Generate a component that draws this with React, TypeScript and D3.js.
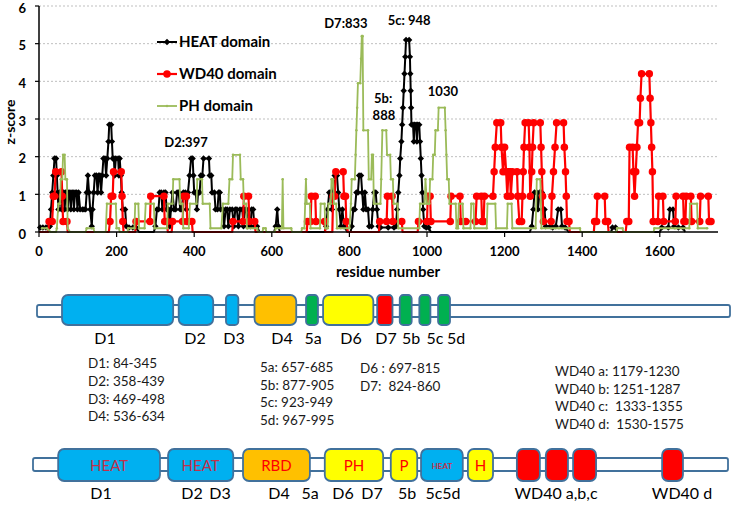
import * as d3 from "d3";

// z-score per residue, [residue, z]
const heatPts: [number, number][] = [
  [3, 0.12], [10, 0.12], [18, 0.12], [24, 0.12], [28, 0.15], [31, 0.6], [34, 1.05], [37, 1.5], [40, 1.95], [44, 1.95],
  [46, 1.5], [48, 1.05], [50, 0.6], [53, 1.05], [56, 1.05], [58, 0.6], [61, 1.05], [64, 1.05], [66, 0.6], [69, 1.05],
  [72, 1.05], [74, 0.6], [77, 1.05], [80, 1.05], [82, 0.6], [85, 1.05], [88, 1.05], [90, 0.6], [93, 1.05], [97, 1.05],
  [99, 0.6], [102, 1.05], [106, 0.6], [112, 0.6], [116, 0.6], [120, 0.6], [123, 1.05], [126, 1.5], [129, 1.05], [132, 0.6],
  [136, 0.15], [138, 0.6], [141, 1.05], [144, 1.5], [148, 1.5], [151, 1.05], [154, 1.5], [157, 1.5], [160, 1.05], [163, 1.5],
  [166, 1.95], [170, 1.95], [173, 1.5], [176, 1.95], [179, 2.4], [181, 2.85], [186, 2.85], [188, 2.4], [190, 1.95], [193, 1.95],
  [195, 1.5], [198, 1.95], [204, 1.95], [206, 1.5], [208, 1.95], [211, 1.5], [213, 1.05], [216, 0.6], [222, 0.6], [225, 0.15],
  [232, 0.12], [242, 0.12], [250, 0.12], [258, 0], [296, 0], [300, 0.15], [304, 0.6], [308, 0.6], [311, 1.05], [315, 1.05],
  [318, 0.6], [322, 1.05], [326, 1.05], [329, 0.6], [334, 0.6], [337, 0.15], [340, 0.6], [344, 1.05], [348, 0.6], [352, 0.6],
  [356, 1.05], [360, 1.05], [364, 0.6], [368, 0.6], [372, 1.05], [377, 1.05], [380, 0.6], [384, 1.05], [388, 1.5], [392, 1.95],
  [396, 1.95], [398, 1.5], [400, 1.05], [404, 1.05], [407, 0.6], [410, 1.05], [414, 1.05], [417, 1.5], [421, 1.5], [424, 1.95],
  [438, 1.95], [440, 1.5], [444, 1.5], [446, 1.05], [452, 1.05], [455, 0.6], [460, 0.6], [463, 1.05], [466, 1.05], [468, 0.6],
  [474, 0.6], [477, 0.15], [481, 0.6], [485, 0.6], [488, 0.15], [492, 0.6], [498, 0.6], [502, 0.15], [506, 0.6], [510, 0.6],
  [514, 0.15], [518, 0.6], [524, 0.6], [527, 0.15], [531, 0.6], [535, 0.6], [538, 0.15], [545, 0.15], [548, 0.6], [552, 0.6],
  [555, 0.15], [562, 0.15], [568, 0], [606, 0], [610, 0.15], [614, 0.6], [617, 0.15], [621, 0], [736, 0], [740, 0.15],
  [744, 0.6], [748, 1.05], [752, 1.05], [755, 0.6], [758, 1.05], [762, 1.5], [768, 1.5], [771, 1.05], [774, 0.6], [778, 0.15],
  [782, 0.6], [786, 0.15], [795, 0], [803, 0], [806, 0.15], [810, 0.6], [814, 0.6], [818, 1.05], [822, 1.05], [825, 1.5],
  [830, 1.5], [833, 1.05], [836, 0.6], [840, 1.05], [843, 0.6], [848, 0.6], [851, 0.15], [857, 0.15], [860, 0.6], [864, 1.05],
  [868, 1.05], [871, 0.6], [875, 0.15], [880, 0.12], [900, 0.12], [915, 0.12], [920, 0.15], [923, 0.6], [926, 1.05], [929, 1.5],
  [931, 1.95], [934, 2.4], [936, 2.85], [938, 3.3], [940, 3.75], [942, 4.2], [944, 4.65], [946, 5.1], [954, 5.1], [956, 4.65],
  [957, 4.2], [958, 3.75], [959, 3.3], [960, 2.85], [964, 2.85], [966, 2.4], [968, 2.85], [972, 2.85], [974, 2.4], [976, 2.85],
  [980, 2.85], [982, 2.4], [984, 1.95], [986, 1.5], [988, 1.05], [990, 0.6], [993, 0.15], [998, 0.12], [1004, 0.12], [1010, 0],
  [1265, 0], [1270, 0.15], [1274, 0.6], [1277, 1.05], [1283, 1.05], [1286, 0.6], [1290, 1.05], [1296, 1.05], [1299, 0.6], [1303, 0.6],
  [1306, 0.15], [1318, 0.15], [1324, 0.12], [1332, 0.15], [1338, 0.6], [1345, 0.6], [1348, 0.15], [1356, 0.12], [1365, 0], [1474, 0],
  [1478, 0.12], [1486, 0.12], [1490, 0], [1600, 0], [1605, 0.12], [1622, 0.12], [1626, 0.6], [1634, 0.6], [1637, 0.15], [1648, 0.12],
  [1660, 0.12], [1665, 0],
];

const wd40Pts: [number, number][] = [
  [0, 0], [24, 0], [26, 0.28], [34, 0.28], [37, 0.95], [40, 0.95], [43, 1.6], [58, 1.6], [60, 0.95], [62, 0.28],
  [72, 0.28], [74, 0], [180, 0], [183, 0.28], [186, 0.95], [190, 0.95], [192, 1.6], [212, 1.6], [214, 0.95], [216, 0.28],
  [218, 0], [248, 0], [250, 0.28], [286, 0.28], [288, 0.95], [322, 0.95], [324, 0.28], [330, 0.28], [332, 0], [342, 0],
  [344, 0.28], [370, 0.28], [373, 0.95], [380, 0.95], [382, 0.28], [394, 0.28], [396, 0], [498, 0], [500, 0.28], [526, 0.28],
  [528, 0.95], [540, 0.95], [542, 0.28], [556, 0.28], [558, 0], [690, 0], [692, 0.28], [700, 0.28], [702, 0.95], [712, 0.95],
  [714, 0.28], [736, 0.28], [738, 0], [756, 0], [758, 0.95], [762, 0.95], [765, 1.6], [784, 1.6], [786, 0.95], [790, 0.95],
  [792, 0.28], [796, 0], [876, 0], [878, 0.28], [896, 0.28], [898, 0.95], [910, 0.95], [912, 0.28], [935, 0.28], [937, 0],
  [976, 0], [978, 0.28], [1000, 0.28], [1002, 0.95], [1008, 0.95], [1010, 0.28], [1060, 0.28], [1062, 0.95], [1085, 0.95], [1087, 0.28],
  [1100, 0.28], [1125, 0.28], [1128, 0.95], [1140, 0.95], [1142, 0.28], [1146, 0.28], [1148, 0.95], [1170, 0.95], [1173, 1.6], [1176, 2.25],
  [1180, 2.9], [1190, 2.9], [1192, 2.25], [1196, 1.6], [1200, 2.25], [1204, 1.6], [1207, 0.95], [1210, 1.6], [1214, 1.6], [1216, 0.95],
  [1220, 1.6], [1232, 1.6], [1234, 0.95], [1238, 0.28], [1244, 0.28], [1246, 0.95], [1248, 1.6], [1250, 2.25], [1253, 2.9], [1262, 2.9],
  [1264, 2.25], [1266, 0.95], [1270, 1.6], [1272, 2.25], [1275, 2.9], [1292, 2.9], [1294, 2.25], [1296, 1.6], [1298, 0.95], [1300, 0.28],
  [1320, 0.28], [1322, 0.95], [1326, 1.6], [1330, 2.25], [1334, 2.9], [1352, 2.9], [1354, 2.25], [1357, 1.6], [1359, 0.95], [1361, 0.28],
  [1366, 0.28], [1368, 0], [1430, 0], [1432, 0.28], [1437, 0.28], [1439, 0.95], [1458, 0.95], [1460, 0.28], [1466, 0.28], [1468, 0],
  [1512, 0], [1515, 0.28], [1520, 0.28], [1522, 2.25], [1530, 2.25], [1532, 1.6], [1535, 0.95], [1538, 1.6], [1541, 2.25], [1544, 2.9],
  [1548, 2.9], [1550, 3.55], [1553, 4.2], [1573, 4.2], [1575, 3.55], [1577, 2.9], [1579, 2.25], [1581, 1.6], [1583, 0.28], [1595, 0.28],
  [1597, 0.95], [1608, 0.95], [1610, 0.28], [1640, 0.28], [1642, 0.95], [1660, 0.95], [1662, 0.28], [1666, 0.28], [1668, 0.95], [1680, 0.95],
  [1682, 0.28], [1703, 0.28], [1705, 0.95], [1725, 0.95], [1727, 0.28], [1732, 0.28],
];

const phPts: [number, number][] = [
  [8, 0.1], [20, 0.1], [30, 0], [44, 0], [46, 0.1], [50, 0.75], [54, 0.75], [56, 1.4], [60, 1.4], [62, 2.05],
  [66, 2.05], [68, 1.4], [72, 1.4], [74, 0.1], [80, 0], [120, 0], [123, 0.1], [140, 0.1], [143, 0], [172, 0],
  [175, 0.75], [198, 0.75], [200, 0.1], [206, 0.1], [208, 0], [228, 0], [230, 0.1], [246, 0.1], [248, 0.75], [256, 0.75],
  [258, 0.1], [272, 0.1], [275, 0.75], [296, 0.75], [298, 0.1], [330, 0.1], [332, 0.75], [344, 0.75], [346, 1.4], [362, 1.4],
  [364, 0.75], [370, 0.75], [372, 0.1], [386, 0.1], [389, 0.75], [406, 0.75], [408, 1.4], [420, 1.4], [422, 0.75], [440, 0.75],
  [442, 0.1], [470, 0.1], [474, 0.75], [488, 0.75], [491, 1.4], [498, 1.4], [500, 2.05], [518, 2.05], [520, 1.4], [526, 1.4],
  [528, 0.75], [534, 0.75], [536, 0.1], [562, 0.1], [565, 0], [576, 0], [578, 0.1], [584, 0.1], [586, 0], [608, 0],
  [610, 0.1], [626, 0.1], [628, 1.4], [630, 0.1], [650, 0.1], [652, 0], [676, 0], [678, 0.1], [684, 0.1], [686, 0.75],
  [688, 1.4], [690, 0.75], [698, 0.75], [700, 0.1], [724, 0.1], [726, 0.75], [736, 0.75], [738, 0.1], [744, 0.1], [746, 0.75],
  [752, 0.75], [754, 1.4], [758, 1.4], [760, 0.75], [766, 0.75], [768, 0.1], [800, 0.1], [804, 0.75], [806, 1.4], [814, 1.4],
  [816, 2.05], [818, 2.7], [820, 3.3], [822, 3.95], [828, 3.95], [830, 4.6], [832, 5.2], [834, 5.2], [836, 2.7], [848, 2.7],
  [850, 1.4], [856, 1.4], [858, 2.05], [861, 2.05], [863, 0.75], [880, 0.75], [882, 1.4], [885, 2.7], [895, 2.7], [897, 2.05],
  [905, 2.05], [907, 1.4], [912, 1.4], [914, 0.75], [924, 0.75], [926, 0.1], [980, 0.1], [982, 0.75], [994, 0.75], [996, 1.4],
  [1000, 0.75], [1006, 0.75], [1008, 1.4], [1014, 1.4], [1016, 2.05], [1020, 2.05], [1022, 2.7], [1028, 2.7], [1030, 3.3], [1046, 3.3],
  [1048, 2.7], [1050, 2.05], [1052, 1.4], [1056, 1.4], [1058, 0.75], [1074, 0.75], [1076, 0.1], [1080, 0.1], [1082, 0.75], [1092, 0.75],
  [1094, 0.1], [1112, 0.1], [1114, 0.75], [1120, 0.75], [1122, 0.1], [1154, 0.1], [1156, 0.75], [1176, 0.75], [1178, 0.1], [1206, 0.1],
  [1208, 0.75], [1218, 0.75], [1220, 0.1], [1280, 0.1], [1283, 1.4], [1292, 1.4], [1295, 0.1], [1340, 0.1], [1368, 0.1], [1394, 0.1],
  [1396, 0], [1488, 0], [1490, 0.1], [1504, 0.1], [1506, 0], [1584, 0], [1586, 0.1], [1640, 0.1], [1676, 0.1], [1678, 0.75],
  [1696, 0.75], [1698, 0.1], [1722, 0.1],
];

const seriesNames = ["HEAT domain", "WD40 domain", "PH domain"];
const xTicks = [0, 200, 400, 600, 800, 1000, 1200, 1400, 1600];
const yTicks = [0, 1, 2, 3, 4, 5, 6];

// peak annotations: text, residue, z
const noteText = ["D2:397", "D7:833", "5c: 948", "5b:", "888", "1030"];
const noteRes = [379, 791, 954, 887, 889, 1041];
const noteZ = [2.26, 5.42, 5.5, 3.42, 2.97, 3.61];

// domain map, top row (from the residue ranges listed)
const row1 = [
  { name: "D1", start: 84, end: 345, kind: "heat" },
  { name: "D2", start: 358, end: 439, kind: "heat" },
  { name: "D3", start: 469, end: 498, kind: "heat" },
  { name: "D4", start: 536, end: 634, kind: "rbd" },
  { name: "5a", start: 657, end: 685, kind: "helix" },
  { name: "D6", start: 697, end: 815, kind: "ph" },
  { name: "D7", start: 824, end: 860, kind: "wd" },
  { name: "5b", start: 877, end: 905, kind: "helix" },
  { name: "5c", start: 923, end: 949, kind: "helix" },
  { name: "5d", start: 967, end: 995, kind: "helix" },
];
const row1Labels = ["D1", "D2", "D3", "D4", "5a", "D6", "D7", "5b", "5c", "5d"];

// bottom row, schematic blocks
const row2 = [
  { text: "HEAT", start: 75, end: 314, kind: "heat" },
  { text: "HEAT", start: 333, end: 486, kind: "heat" },
  { text: "RBD", start: 509, end: 666, kind: "rbd" },
  { text: "PH", start: 701, end: 838, kind: "ph" },
  { text: "P", start: 856, end: 918, kind: "ph" },
  { text: "HEAT", start: 927, end: 1025, kind: "heat" },
  { text: "H", start: 1037, end: 1096, kind: "ph" },
  { text: "", start: 1152, end: 1206, kind: "wd" },
  { text: "", start: 1220, end: 1272, kind: "wd" },
  { text: "", start: 1284, end: 1338, kind: "wd" },
  { text: "", start: 1493, end: 1542, kind: "wd" },
];
const row2Labels = ["D1", "D2", "D3", "D4", "5a", "D6", "D7", "5b", "5c5d", "WD40 a,b,c", "WD40 d"];

const rangesCol1 = ["D1: 84-345", "D2: 358-439", "D3: 469-498", "D4: 536-634"];
const rangesCol2 = ["5a: 657-685", "5b: 877-905", "5c: 923-949", "5d: 967-995"];
const rangesCol3 = ["D6 : 697-815", "D7:  824-860"];
const rangesCol4 = ["WD40 a: 1179-1230", "WD40 b: 1251-1287", "WD40 c:  1333-1355", "WD40 d:  1530-1575"];

const W = 732;
const H = 506;
const FONT = "Lato, 'Open Sans', sans-serif";

const fills: Record<string, string> = {
  heat: "#00B0F0",
  rbd: "#FFC000",
  helix: "#00B050",
  ph: "#FFFF00",
  wd: "#FF0000",
};
const outline = "#41719C";

export default function App() {
  const x = d3.scaleLinear().domain([0, 1750]).range([39, 718]);
  const y = d3.scaleLinear().domain([0, 6]).range([232, 6]);
  const dx = d3.scaleLinear().domain([84, 995]).range([62, 450]);

  const line = d3.line<[number, number]>().x((d) => x(d[0])).y((d) => y(d[1]));
  const diamond = d3.symbol(d3.symbolDiamond2, 26)()!;
  const circle = d3.symbol(d3.symbolCircle, 44)()!;
  const dot = d3.symbol(d3.symbolCircle, 5)()!;

  const series = [
    { pts: heatPts, color: "#000000", width: 2, marker: diamond },
    { pts: wd40Pts, color: "#FF0000", width: 2.2, marker: circle },
    { pts: phPts, color: "#9BBB59", width: 1.8, marker: dot },
  ];

  const row1LabelX = [105, 195, 234, 282, 313, 351, 386, 411, 435, 456];
  const row2LabelX = [101, 192, 220, 279, 310, 343, 372, 407, 443, 556, 682];
  const pre = { whiteSpace: "pre" as const };

  return (
    <svg width={W} height={H} style={{ position: "absolute", left: 0, top: 0, background: "#fff" }} fontFamily={FONT}>
      {/* grid */}
      {yTicks.filter((t) => t > 0).map((t) => (
        <line key={"g" + t} x1={x(0)} x2={x(1750)} y1={y(t)} y2={y(t)} stroke="#BFBFBF" strokeDasharray="2,2" />
      ))}

      {/* series */}
      {series.map((s, i) => (
        <g key={"s" + i}>
          <path d={line(s.pts)!} fill="none" stroke={s.color} strokeWidth={s.width} strokeLinejoin="round" />
          {s.pts.filter((p) => p[1] > 0).map((p, j) => (
            <path key={j} d={s.marker} transform={`translate(${x(p[0])},${y(p[1])})`} fill={s.color} />
          ))}
        </g>
      ))}

      {/* axes */}
      <line x1={x(0)} x2={x(0)} y1={y(0)} y2={y(6)} stroke="#000" strokeWidth={1.5} />
      <line x1={x(0)} x2={x(1750)} y1={y(0)} y2={y(0)} stroke="#000" strokeWidth={1.5} />
      {yTicks.map((t) => (
        <g key={"y" + t}>
          <line x1={x(0) - 4} x2={x(0)} y1={y(t)} y2={y(t)} stroke="#000" strokeWidth={1.2} />
          <text x={26} y={y(t)} dy="0.5em" textAnchor="end" fontSize={13} fontWeight="bold">{t}</text>
        </g>
      ))}
      {xTicks.map((t) => (
        <g key={"x" + t}>
          <line x1={x(t)} x2={x(t)} y1={y(0)} y2={y(0) + 5} stroke="#000" strokeWidth={1.2} />
          <text x={x(t)} y={256} textAnchor="middle" fontSize={13} fontWeight="bold">{t}</text>
        </g>
      ))}
      <text transform="translate(15,122) rotate(-90)" textAnchor="middle" fontSize={14} fontWeight="bold">z-score</text>
      <text x={388} y={277} textAnchor="middle" fontSize={15} fontWeight="bold">residue number</text>

      {/* legend */}
      {seriesNames.map((n, i) => (
        <g key={"l" + i} transform={`translate(0,${42 + i * 32})`}>
          <line x1={157} x2={177} y1={0} y2={0} stroke={series[i].color} strokeWidth={series[i].width} />
          <path d={series[i].marker} transform="translate(167,0)" fill={series[i].color} />
          <text x={179} y={0} dy="0.36em" fontSize={15} fontWeight="bold">{n}</text>
        </g>
      ))}

      {/* annotations */}
      {noteText.map((t, i) => (
        <text key={"n" + i} x={x(noteRes[i])} y={y(noteZ[i])} textAnchor="middle" fontSize={13} fontWeight="bold">{t}</text>
      ))}

      {/* domain map, top row */}
      <rect x={37} y={305} width={693} height={12} rx={2} fill="#fff" stroke={outline} strokeWidth={1.8} />
      {row1.map((d) => (
        <rect key={d.name} x={dx(d.start)} y={295} width={dx(d.end) - dx(d.start)} height={30}
          rx={d.end - d.start > 60 ? 6 : 3.5} fill={fills[d.kind]} stroke={outline} strokeWidth={1.8} />
      ))}
      {row1Labels.map((t, i) => (
        <text key={"r1" + i} x={row1LabelX[i]} y={344} textAnchor="middle" fontSize={16}>{t}</text>
      ))}

      {/* ranges */}
      {rangesCol1.map((t, i) => (
        <text key={"c1" + i} x={88} y={368 + i * 17.8} fontSize={13.5} fill="#1a1a1a" style={pre}>{t}</text>
      ))}
      {rangesCol2.map((t, i) => (
        <text key={"c2" + i} x={260} y={372 + i * 17.5} fontSize={13.5} fill="#1a1a1a" style={pre}>{t}</text>
      ))}
      {rangesCol3.map((t, i) => (
        <text key={"c3" + i} x={360} y={373 + i * 17.5} fontSize={13.5} fill="#1a1a1a" style={pre}>{t}</text>
      ))}
      {rangesCol4.map((t, i) => (
        <text key={"c4" + i} x={555} y={376 + i * 17.5} fontSize={13.5} fill="#1a1a1a" style={pre}>{t}</text>
      ))}

      {/* domain map, bottom row */}
      <rect x={33} y={458} width={695} height={13} rx={2} fill="#fff" stroke={outline} strokeWidth={1.8} />
      {row2.map((d, i) => {
        const x0 = dx(d.start);
        const w = dx(d.end) - x0;
        const small = d.text === "HEAT" && w < 50;
        return (
          <g key={"b" + i}>
            <rect x={x0} y={449} width={w} height={32} rx={6} fill={fills[d.kind]} stroke={outline} strokeWidth={1.8} />
            {d.text && (
              <text x={x0 + w / 2} y={small ? 468.5 : 471} textAnchor="middle"
                fontSize={small ? 8 : 15} fontWeight={small ? "bold" : "normal"}
                fill={d.kind === "heat" ? "#C0304A" : "#FF0000"}>{d.text}</text>
            )}
          </g>
        );
      })}
      {row2Labels.map((t, i) => (
        <text key={"r2" + i} x={row2LabelX[i]} y={499} textAnchor="middle" fontSize={16}>{t}</text>
      ))}
    </svg>
  );
}
